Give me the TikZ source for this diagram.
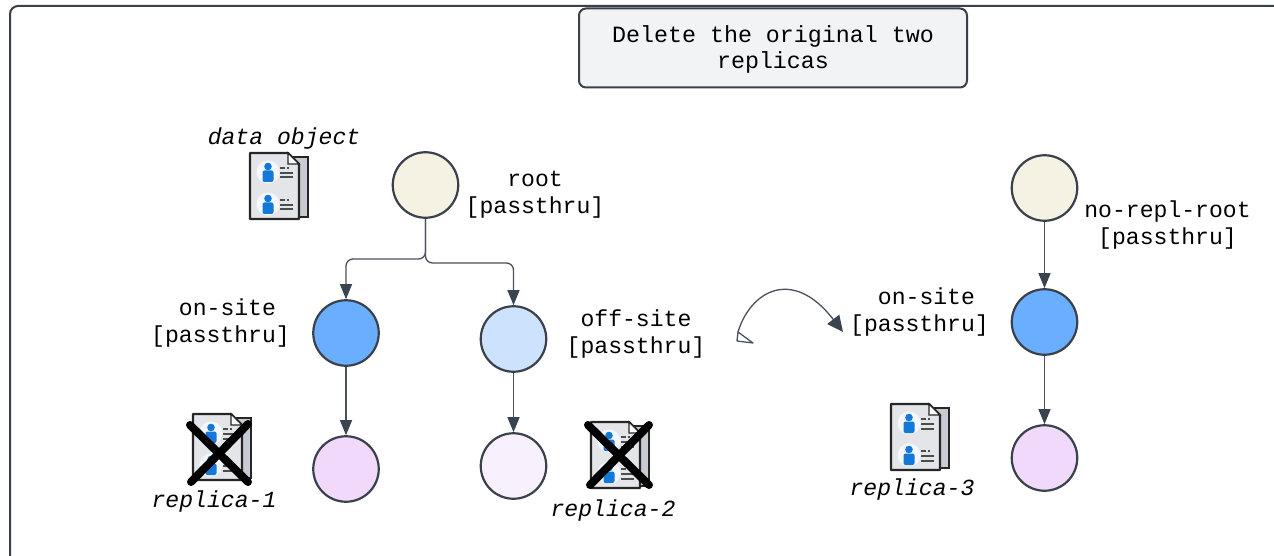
\documentclass[tikz,border=0pt]{standalone}
\usepackage{fontspec}
\setmonofont{Liberation Mono}
\usetikzlibrary{arrows.meta}
\definecolor{framecol}{HTML}{3A414A}
\definecolor{linecol}{HTML}{4A515C}
\definecolor{headcol}{HTML}{3A4350}
\definecolor{boxfill}{HTML}{F2F3F5}
\definecolor{creamfill}{HTML}{F5F2E3}
\definecolor{bluefill}{HTML}{6AAEFF}
\definecolor{paleblue}{HTML}{CDE2FC}
\definecolor{lilac}{HTML}{F0D9FB}
\definecolor{palelilac}{HTML}{F8F0FD}
\definecolor{docfront}{HTML}{E4E5E9}
\definecolor{docback}{HTML}{C9CBD3}
\definecolor{personblue}{HTML}{1478D8}
\definecolor{halo}{HTML}{F4F8FD}
\tikzset{
  x=1pt,y=-1pt,
  treenode/.style={circle,draw=framecol,line width=2.2pt,minimum size=65.5pt,inner sep=0pt},
  lab/.style={font=\fontsize{23.1}{27}\selectfont\ttfamily,align=center,text=black,inner sep=0pt},
  ital/.style={font=\fontsize{23.1}{27}\selectfont\ttfamily\itshape,text=black,inner sep=0pt},
  titlebox/.style={draw=framecol,fill=boxfill,line width=2pt,rounded corners=7pt,minimum width=388pt,minimum height=79pt,inner sep=0pt,align=center,font=\fontsize{23.3}{27}\selectfont\ttfamily},
  conn/.style={draw=linecol,line width=1.3pt,-{Triangle[length=15pt,width=12pt,color=headcol]}},
  crossline/.style={line width=8pt,black,line cap=round},
  pics/docicon/.style={code={
    \draw[black!85,line width=2pt,fill=docback] (40,4) -- (58,4) -- (58,64) -- (40,64) -- cycle;
    \draw[black!85,line width=2.2pt,fill=docfront,line join=round] (0,0) -- (38,0) -- (49,11) -- (49,66) -- (0,66) -- cycle;
    \draw[black!85,line width=1.4pt,fill=white] (38,0) -- (38,11) -- (49,11) -- cycle;
    \foreach \yy in {0,32}{
      \fill[halo] (18,19+\yy) circle (11.5);
      \fill[personblue] (18,13.5+\yy) circle (3.8);
      \fill[personblue,rounded corners=2pt] (12.5,17.5+\yy) rectangle (23.5,29+\yy);
      \fill[black!70] (30,14+\yy) rectangle (35,16+\yy);
      \fill[black!70] (37,14+\yy) rectangle (39,16+\yy);
      \fill[black!70] (30,19+\yy) rectangle (43,21+\yy);
      \fill[black!70] (30,23.5+\yy) rectangle (43,25.5+\yy);
    }
  }}
}
\begin{document}
\begin{tikzpicture}
\useasboundingbox (0,0) rectangle (1274,556);
\begin{scope}
\clip (0,0) rectangle (1274,556);
\draw[framecol,line width=2pt,rounded corners=8pt] (10,6) rectangle (1320,620);
\end{scope}
\node[titlebox] (title) at (773,48) {\rule{0pt}{20pt}Delete the original two\\[-1pt]replicas};

\node[treenode,fill=creamfill] (root) at (425.5,185) {};
\node[treenode,fill=bluefill] (onsite) at (346,333) {};
\node[treenode,fill=paleblue] (offsite) at (513.5,339) {};
\node[treenode,fill=lilac] (leafa) at (346,469) {};
\node[treenode,fill=palelilac] (leafb) at (513.5,466) {};
\node[treenode,fill=creamfill] (rroot) at (1044.5,188) {};
\node[treenode,fill=bluefill] (ronsite) at (1044.5,322) {};
\node[treenode,fill=lilac] (rleaf) at (1044.5,458) {};

\node[ital] (dataobj) at (284,139) {data object};
\node[lab] (lroot) at (535,195) {root\\{}[passthru]};
\node[lab] (lon) at (220.5,323) {\hspace*{13.9pt}on-site\\{}[passthru]};
\node[lab] (loff) at (636,334) {off-site\\{}[passthru]};
\node[lab] (lron) at (919.5,312) {\hspace*{13.9pt}on-site\\{}[passthru]};
\node[lab] (lrroot) at (1167.5,225) {no-repl-root\\{}[passthru]};
\node[ital] (repa) at (214,502) {replica-1};
\node[ital] (repb) at (613,511) {replica-2};
\node[ital] (repc) at (912,490) {replica-3};

\pic at (250,153) {docicon};
\pic at (193,414) {docicon};
\pic at (591,422) {docicon};
\pic at (891,404) {docicon};

\draw[crossline] (190,425) -- (248,482);
\draw[crossline] (248,424) -- (191,482);
\draw[crossline] (588,425) -- (649,485);
\draw[crossline] (649,425) -- (590,485);

\draw[conn,rounded corners=7pt] (root.south) -- (425.5,259) -- (346,259) -- (onsite.north);
\draw[conn,rounded corners=7pt] (root.south) -- (425.5,263) -- (513.5,263) -- (offsite.north);
\draw[conn] (onsite.south) -- (leafa.north);
\draw[conn] (offsite.south) -- (leafb.north);
\draw[conn] (rroot.south) -- (ronsite.north);
\draw[conn] (ronsite.south) -- (rleaf.north);

\coordinate (curvestart) at (738,332);
\coordinate (curveend) at (843,332);
\draw[draw=linecol,line width=1.3pt,fill=white,line join=round] (737,341) -- (738,332) -- (753,343) -- cycle;
\draw[draw=linecol,line width=1.3pt,-{Triangle[length=16pt,width=15pt,color=headcol]}] (curvestart) .. controls (750,292) and (792,266) .. (curveend);
\end{tikzpicture}
\end{document}
